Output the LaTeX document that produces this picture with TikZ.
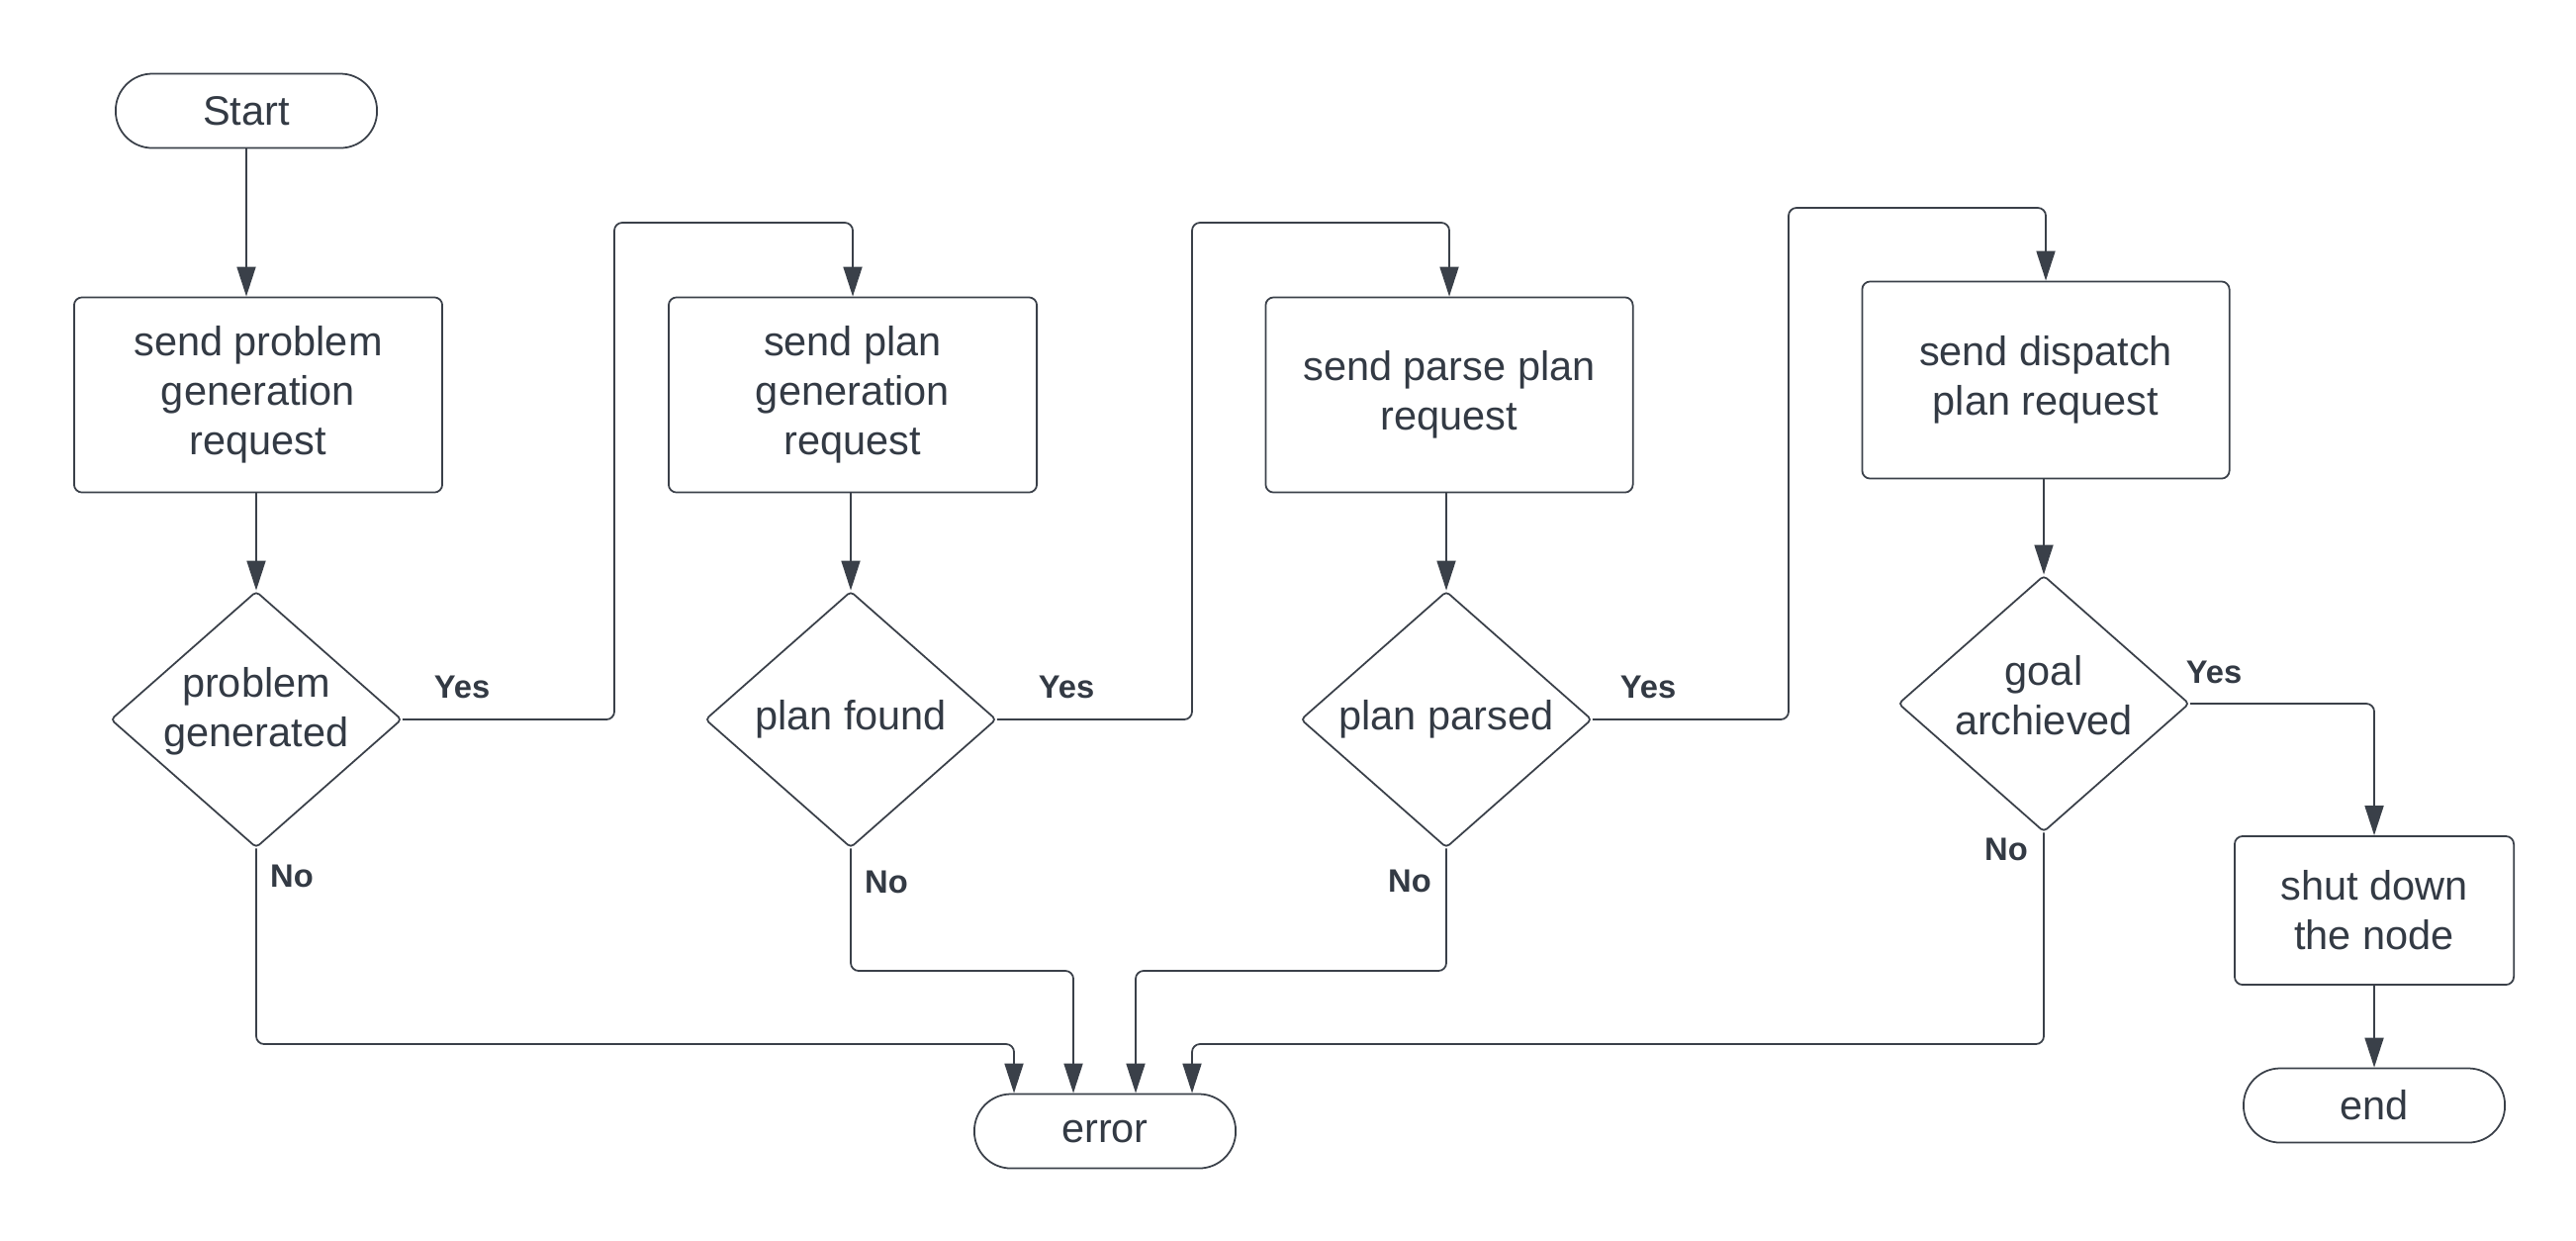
\documentclass[tikz,border=0pt]{standalone}
\usepackage{fontspec}
\setmainfont{Liberation Sans}
\usetikzlibrary{arrows.meta,shapes.geometric}
\definecolor{ink}{HTML}{3A4049}
\definecolor{txt}{HTML}{333A44}
\begin{document}
\begin{tikzpicture}[x=0.01cm,y=-0.01cm,
  base/.style={draw=ink,line width=0.5pt,text=txt,font=\fontsize{11.8}{14.2}\selectfont,align=center,inner sep=0pt},
  stadium/.style={base,rectangle,rounded corners=0.37cm,minimum width=2.64cm,minimum height=0.75cm},
  procbox/.style={base,rectangle,rounded corners=0.08cm},
  decision/.style={base,diamond,rounded corners=0.04cm,minimum width=2.94cm,minimum height=2.59cm},
  conn/.style={draw=ink,line width=0.5pt,rounded corners=0.08cm,-{Triangle[length=0.3cm,width=0.19cm]}},
  lbl/.style={text=txt,font=\fontsize{9.3}{11}\selectfont\bfseries,inner sep=0pt}]
\useasboundingbox (0,0) rectangle (2604,1253);
% nodes
\node[stadium] (start) at (249,112) {Start};
\node[procbox,minimum width=3.72cm,minimum height=1.97cm] (b1) at (261,399) {send problem\\generation\\request};
\node[procbox,minimum width=3.72cm,minimum height=1.97cm] (b2) at (862,399) {send plan\\generation\\request};
\node[procbox,minimum width=3.71cm,minimum height=1.97cm] (b3) at (1465,399) {send parse plan\\request};
\node[procbox,minimum width=3.71cm,minimum height=1.99cm] (b4) at (2068,384) {send dispatch\\plan request};
\node[decision,label={[base,draw=none,yshift=0.08cm]center:problem\\generated}] (d1) at (259,727) {};
\node[decision,label={[base,draw=none]center:plan found}] (d2) at (860,727) {};
\node[decision,label={[base,draw=none]center:plan parsed}] (d3) at (1462,727) {};
\node[decision,label={[base,draw=none,yshift=0.08cm]center:goal\\archieved}] (d4) at (2066,711) {};
\node[procbox,minimum width=2.82cm,minimum height=1.50cm] (sd) at (2400,920) {shut down\\the node};
\node[stadium] (end) at (2400,1117) {end};
\node[stadium] (err) at (1117,1143) {error};
% labels
\node[lbl] (y1) at (467,694) {Yes};
\node[lbl] (y2) at (1078,694) {Yes};
\node[lbl] (y3) at (1666,694) {Yes};
\node[lbl] (y4) at (2238,679) {Yes};
\node[lbl] (n1) at (295,885) {No};
\node[lbl] (n2) at (896,891) {No};
\node[lbl] (n3) at (1425,890) {No};
\node[lbl] (n4) at (2028,858) {No};
% connectors
\draw[conn] (start.south) -- (start.south |- b1.north);
\draw[conn] (d1.north |- b1.south) -- (d1.north);
\draw[conn] (d2.north |- b2.south) -- (d2.north);
\draw[conn] (d3.north |- b3.south) -- (d3.north);
\draw[conn] (d4.north |- b4.south) -- (d4.north);
\draw[conn] (d1.east) -| (621,225) -| (b2.north);
\draw[conn] (d2.east) -| (1205,225) -| (b3.north);
\draw[conn] (d3.east) -| (1808,210) -| (b4.north);
\draw[conn] (d4.east) -| (sd.north);
\draw[conn] (sd.south) -- (end.north);
\draw[conn] (d1.south) |- (1025,1055) -- (1025,0 |- err.north);
\draw[conn] (d2.south) |- (1085,981) -- (1085,0 |- err.north);
\draw[conn] (d3.south) |- (1148,981) -- (1148,0 |- err.north);
\draw[conn] (d4.south) |- (1205,1055) -- (1205,0 |- err.north);
\end{tikzpicture}
\end{document}
